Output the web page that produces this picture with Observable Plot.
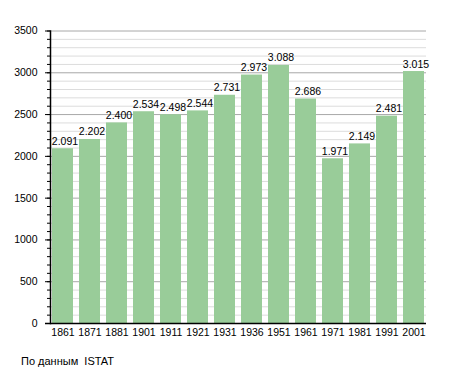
<!DOCTYPE html>
<html>
<head>
<meta charset="utf-8">
<script src="https://cdn.jsdelivr.net/npm/d3@7"></script>
<script src="https://cdn.jsdelivr.net/npm/@observablehq/plot@0.6"></script>
<style>
  body { margin: 0; background: #fff; font-family: "Liberation Sans", Arial, sans-serif; }
  #wrap { position: relative; width: 455px; height: 373px; }
  #caption { position: absolute; left: 21px; top: 355px; font-size: 11px; color: #000; line-height: 13px; }
</style>
</head>
<body>
<div id="wrap"><div id="chart"></div><div id="caption">По данным &nbsp;ISTAT</div></div>
<script>
const years = ["1861","1871","1881","1901","1911","1921","1931","1936","1951","1961","1971","1981","1991","2001"];
const values = [2091, 2202, 2400, 2534, 2498, 2544, 2731, 2973, 3088, 2686, 1971, 2149, 2481, 3015];
const majorTicks = d3.range(0, 3501, 500);
const minorTicks = d3.range(0, 3501, 100);

const data = years.map((y, i) => ({year: y, value: values[i]}));
const fmt = d3.formatLocale({decimal: ",", thousands: ".", grouping: [3]}).format(",");

const chart = Plot.plot({
  width: 455,
  height: 340,
  marginLeft: 50,
  marginRight: 29,
  marginTop: 30.5,
  marginBottom: 17,
  style: {fontFamily: "'Liberation Sans', Arial, sans-serif", fontSize: "10.5px", color: "#000", background: "#fff"},
  x: {domain: years, paddingInner: 0.22, paddingOuter: 0, label: null},
  y: {domain: [0, 3500], label: null},
  marks: [
    Plot.ruleY(minorTicks.filter(d => d % 500 !== 0), {stroke: "#dcdcdc", strokeWidth: 1}),
    Plot.ruleY(majorTicks, {stroke: "#a8a8a8", strokeWidth: 1}),
    Plot.barY(data, {x: "year", y: "value", fill: "#99cc99"}),
    Plot.axisY({ticks: minorTicks, tickSize: 3, tickFormat: null, text: null, stroke: "#000"}),
    Plot.axisY({ticks: majorTicks, tickSize: 5, tickPadding: 8, tickFormat: d => String(d), stroke: "#000", fill: "#000", fontSize: 10.5}),
    Plot.axisX({tickSize: 0, tickPadding: 5, fill: "#000", fontSize: 10.5}),
    Plot.frame({anchor: "left", stroke: "#000", strokeWidth: 1.5}),
    Plot.ruleY([0], {stroke: "#000", strokeWidth: 1.5, insetLeft: -5}),
    Plot.text(data, {x: "year", y: "value", text: d => fmt(d.value), lineAnchor: "bottom", dy: -4, dx: 2, fill: "#000", fontSize: 10.5})
  ]
});
document.getElementById("chart").appendChild(chart);
</script>
</body>
</html>
